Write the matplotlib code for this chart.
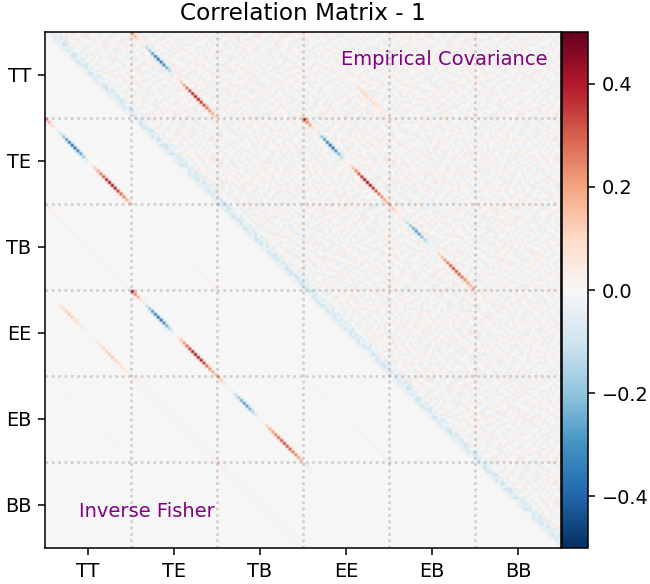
# -*- coding: utf-8 -*-
"""
   Correlation matrix of the binned spectra, 6 spectra with 30 bins each.
"""
import numpy as np
import matplotlib
matplotlib.use('Agg')
import matplotlib.pyplot as plt

spectra = ['TT', 'TE', 'TB', 'EE', 'EB', 'BB']
n_bins = 30
cbar_ticks = [-0.4, -0.2, 0.0, 0.2, 0.4]
bin_leak = 0.13  # part of a diagonal cell seen in the cells next to it

# values along the diagonal of a block
# lower triangle, "Inverse Fisher"
fisher_te_tt = [0.24, 0.18, 0.10, 0.02, -0.05, -0.12, -0.2, -0.28, -0.35, -0.39, -0.39, -0.34, -0.27, -0.18, -0.07,
                0.0, 0.05, 0.13, 0.2, 0.26, 0.32, 0.38, 0.43, 0.44, 0.41, 0.36, 0.3, 0.25, 0.19, 0.13]
fisher_tb_tt = [0.06, 0.05, 0.05, 0.04, 0.03, 0.03, 0.03, 0.03, 0.03, 0.03, 0.03, 0.03, 0.03, 0.02, 0.02,
                0.02, 0.02, 0.02, 0.02, 0.02, 0.02, 0.02, 0.02, 0.02, 0.02, 0.02, 0.02, 0.02, 0.03, 0.04]
fisher_ee_tt = [0.03, 0.02, 0.01, 0.0, 0.01, 0.06, 0.1, 0.12, 0.13, 0.12, 0.1, 0.09, 0.06, 0.04, 0.02,
                0.01, 0.01, 0.03, 0.06, 0.09, 0.11, 0.12, 0.13, 0.13, 0.12, 0.1, 0.09, 0.07, 0.05, 0.03]
fisher_eb_tt = [0.0, 0.0, 0.0, 0.0, 0.0, -0.01, -0.015, -0.02, -0.02, -0.015, -0.01, -0.005, 0.0, 0.0, 0.0,
                0.0, 0.0, 0.01, 0.015, 0.02, 0.02, 0.02, 0.02, 0.02, 0.015, 0.015, 0.01, 0.01, 0.0, 0.0]
fisher_tb_te = [0.0, 0.0, 0.0, 0.0, 0.0, 0.0, 0.0, 0.0, 0.0, 0.0, 0.0, 0.0, 0.0, 0.0, 0.0,
                0.01, 0.01, 0.01, 0.01, 0.01, 0.01, 0.01, 0.02, 0.02, 0.02, 0.02, 0.03, 0.03, 0.04, 0.06]
fisher_ee_te = [0.46, 0.26, 0.18, 0.08, -0.04, -0.12, -0.2, -0.29, -0.35, -0.39, -0.38, -0.32, -0.25, -0.16, -0.06,
                0.0, 0.07, 0.15, 0.23, 0.3, 0.36, 0.41, 0.44, 0.43, 0.4, 0.35, 0.29, 0.24, 0.2, 0.16]
fisher_eb_te = [0.06, 0.05, 0.04, 0.03, 0.03, 0.03, 0.03, 0.03, 0.03, 0.03, 0.03, 0.03, 0.03, 0.03, 0.03,
                0.03, 0.03, 0.03, 0.03, 0.03, 0.03, 0.03, 0.03, 0.03, 0.03, 0.03, 0.03, 0.03, 0.03, 0.04]
fisher_eb_tb = [0.2, 0.14, 0.08, 0.03, 0.0, -0.05, -0.12, -0.19, -0.25, -0.29, -0.29, -0.24, -0.17, -0.1, -0.03,
                0.0, 0.04, 0.12, 0.18, 0.22, 0.26, 0.3, 0.33, 0.34, 0.33, 0.31, 0.28, 0.25, 0.21, 0.15]
fisher_bb_tb = [0.05, 0.04, 0.04, 0.03, 0.03, 0.03, 0.03, 0.03, 0.03, 0.03, 0.03, 0.03, 0.03, 0.03, 0.03,
                0.03, 0.03, 0.03, 0.03, 0.03, 0.03, 0.03, 0.03, 0.03, 0.03, 0.03, 0.03, 0.03, 0.03, 0.03]
fisher_eb_ee = [0.02, 0.02, 0.02, 0.02, 0.02, 0.02, 0.02, 0.02, 0.01, 0.01, 0.01, 0.01, 0.01, 0.01, 0.01,
                0.01, 0.01, 0.02, 0.02, 0.02, 0.03, 0.03, 0.03, 0.03, 0.03, 0.03, 0.03, 0.03, 0.03, 0.03]
fisher_bb_ee = [-0.08, -0.06, -0.04, -0.02, -0.01, 0.0, 0.0, 0.0, 0.0, 0.0, 0.0, 0.0, 0.0, 0.0, 0.0,
                0.0, 0.0, 0.0, 0.0, 0.0, 0.0, 0.0, 0.0, 0.0, 0.0, 0.0, 0.0, 0.0, 0.0, 0.0]

# upper triangle, "Empirical Covariance"
empirical_tt_te = [0.24, 0.16, 0.1, 0.04, -0.04, -0.13, -0.2, -0.28, -0.34, -0.38, -0.37, -0.32, -0.24, -0.15, -0.05,
                   0.0, 0.06, 0.14, 0.21, 0.28, 0.34, 0.39, 0.42, 0.42, 0.38, 0.33, 0.28, 0.23, 0.18, 0.12]
empirical_tt_ee = [0.03, 0.02, 0.01, 0.0, 0.0, 0.01, 0.01, 0.01, 0.01, 0.01, 0.01, 0.01, 0.01, 0.01, 0.01,
                   0.01, 0.01, 0.02, 0.05, 0.08, 0.1, 0.11, 0.11, 0.1, 0.09, 0.08, 0.06, 0.05, 0.03, 0.02]
empirical_te_ee = [0.44, 0.26, 0.2, 0.1, 0.02, -0.08, -0.19, -0.28, -0.35, -0.39, -0.37, -0.31, -0.23, -0.13, -0.04,
                   0.0, 0.08, 0.16, 0.24, 0.32, 0.39, 0.43, 0.45, 0.43, 0.38, 0.33, 0.28, 0.24, 0.2, 0.18]
empirical_tb_eb = [0.14, 0.12, 0.08, 0.04, 0.0, -0.06, -0.13, -0.19, -0.25, -0.29, -0.28, -0.22, -0.15, -0.08, -0.02,
                   0.0, 0.05, 0.12, 0.17, 0.22, 0.27, 0.31, 0.33, 0.33, 0.31, 0.28, 0.24, 0.21, 0.16, 0.2]
# blue band just above the main diagonal, by distance from it
empirical_band = [-0.025, -0.06, -0.07, -0.06, -0.03]

# noise of the empirical estimate, one block worth of hand estimated cells,
# 3 is zero and a step is 0.022. The same cells are reused, turned, for all blocks
empirical_noise = [
    '452531342613245134352425113524',
    '315342514233516243124351542335',
    '143352263415322541353142334251',
    '524134315242143352241533425143',
    '231545123354425123436214352312',
    '342213454132351244312543214453',
    '415324132543214335524132153342',
    '153441325314542413132354241325',
    '324152543123335241453212534413',
    '243315124534412353214445123352',
    '532143352241353124532331425234',
    '415234513324241435123254332143',
    '131453245142532413345123414525',
    '354215134453214352512431253342',
    '243531423215443125334152342415',
    '512324354143152534213345415233',
    '335142215335241342451223134542',
    '142453343214525213354514332153',
    '423315154243341524132345251434',
    '351234425152233415243153412325',
    '234542313435514232535241343152',
    '413153542324132453421335254213',
    '542314135243325142153424315342',
    '135423244315453214335142532143',
    '324251513432142535242313451325',
    '253143324155314423153252134354',
    '412534241323542351324145323241',
    '341325453142215434251333542153',
    '523142135354432215143524213435',
    '234415342231354142535213341524',
]

# (row block, column block, values along the block diagonal)
diagonals = [
    (1, 0, fisher_te_tt), (2, 0, fisher_tb_tt), (3, 0, fisher_ee_tt), (4, 0, fisher_eb_tt),
    (2, 1, fisher_tb_te), (3, 1, fisher_ee_te), (4, 1, fisher_eb_te), (4, 2, fisher_eb_tb),
    (5, 2, fisher_bb_tb), (4, 3, fisher_eb_ee), (5, 3, fisher_bb_ee),
    (0, 1, empirical_tt_te), (0, 3, empirical_tt_ee), (1, 3, empirical_te_ee), (2, 4, empirical_tb_eb),
]


def build_matrix():
    '''
    Fill the matrix from the lists above
    '''
    size = n_bins * len(spectra)
    matrix = np.zeros((size, size))
    noise = np.array([[(int(c) - 3) * 0.022 for c in row] for row in empirical_noise])
    for i in range(len(spectra)):
        for j in range(i, len(spectra)):
            matrix[i * n_bins:(i + 1) * n_bins, j * n_bins:(j + 1) * n_bins] = np.rot90(noise, i + 2 * j)
    matrix = np.triu(matrix, 1)

    for k, value in enumerate(empirical_band):
        rows = np.arange(size - k)
        matrix[rows, rows + k] += value

    for i, j, values in diagonals:
        for k, value in enumerate(values):
            row = i * n_bins + k
            col = j * n_bins + k
            matrix[row, col] = value
            if k + 1 < n_bins:
                matrix[row + 1, col] += bin_leak * value
                matrix[row, col + 1] += bin_leak * value
    return matrix


def plot_matrix(matrix):
    fig = plt.figure(figsize=(650 / 139, 584 / 139), dpi=139)
    ax = fig.add_axes([45 / 650, 36 / 584, 516 / 650, 516 / 584])
    cax = fig.add_axes([562 / 650, 36 / 584, 26 / 650, 516 / 584])

    im = ax.imshow(matrix, cmap='RdBu_r', vmin=-0.5, vmax=0.5)
    cbar = fig.colorbar(im, cax=cax)
    cbar.set_ticks(cbar_ticks)

    size = matrix.shape[0]
    for i in range(1, len(spectra)):
        edge = i * n_bins - 0.5
        ax.axvline(edge, color='k', alpha=0.16, ls=(0, (1, 1.35)), lw=1.4)
        ax.axhline(edge, color='k', alpha=0.16, ls=(0, (1, 1.35)), lw=1.4)
    ax.set_xlim(-0.5, size - 0.5)
    ax.set_ylim(size - 0.5, -0.5)

    centers = [(i + 0.5) * n_bins - 0.5 for i in range(len(spectra))]
    ax.set_xticks(centers)
    ax.set_xticklabels(spectra)
    ax.set_yticks(centers)
    ax.set_yticklabels(spectra)

    ax.set_title('Correlation Matrix - 1', fontsize=12)
    ax.text(0.9733, 0.946, 'Empirical Covariance', color='purple', fontsize=10.1,
            ha='right', va='center', transform=ax.transAxes)
    ax.text(0.066, 0.0717, 'Inverse Fisher', color='purple', fontsize=10.1,
            ha='left', va='center', transform=ax.transAxes)
    fig.savefig('out.png', dpi=139)


if __name__ == '__main__':
    plot_matrix(build_matrix())
